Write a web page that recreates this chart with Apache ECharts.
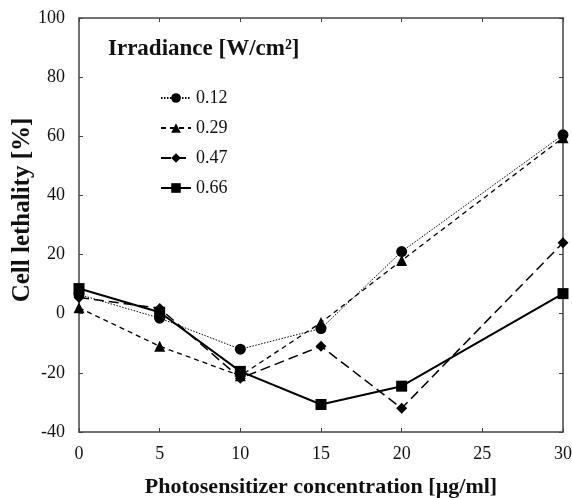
<!DOCTYPE html>
<html>
<head>
<meta charset="utf-8">
<script src="https://cdn.jsdelivr.net/npm/echarts@6/dist/echarts.min.js"></script>
<style>
  html, body { margin: 0; padding: 0; background: #fff; }
  #chart { width: 572px; height: 498px; }
</style>
</head>
<body>
<div id="chart"></div>
<script>
// concentration [ug/ml]
const conc = [0, 5, 10, 15, 20, 30];

// cell lethality [%] per irradiance
const irr012 = [6.5, -1.5, -12, -5, 21, 60.5];
const irr029 = [2, -11, -21, -3, 18, 59.5];
const irr047 = [5.5, 1.8, -21.8, -11, -32, 24];
const irr066 = [8.5, 0.5, -19.5, -30.7, -24.5, 6.8];

const seriesNames = ['0.12', '0.29', '0.47', '0.66'];

const font = 'Liberation Serif, Times New Roman, serif';
const axisColor = '#444';

const chartDom = document.getElementById('chart');
const myChart = echarts.init(chartDom);

function pairs(vals) {
  return conc.map((c, i) => [c, vals[i]]);
}

function mkSeries(name, vals, symbol, size, lineType, width) {
  return {
    name: name,
    type: 'line',
    data: pairs(vals),
    symbol: symbol,
    symbolSize: size,
    lineStyle: { color: '#000', width: width, type: lineType },
    itemStyle: { color: '#000' },
    z: 3
  };
}

const axisCommon = {
  axisLine: { show: true, onZero: false, lineStyle: { color: axisColor, width: 1.5 } },
  axisTick: { show: true, inside: true, length: 4, lineStyle: { color: axisColor, width: 1 } },
  splitLine: { show: false }
};

const option = {
  animation: false,
  title: {
    text: 'Irradiance [W/cm²]',
    left: 103,
    top: 33,
    textStyle: { fontFamily: font, fontSize: 23, fontWeight: 'bold', color: '#111' }
  },
  legend: {
    orient: 'vertical',
    left: 155,
    top: 84,
    itemWidth: 30,
    itemHeight: 12,
    itemGap: 12,
    data: seriesNames,
    textStyle: { fontFamily: font, fontSize: 18, color: '#111' }
  },
  grid: { left: 79, right: 9, top: 18, bottom: 66, outerBoundsMode: 'none' },
  xAxis: [
    Object.assign({
      type: 'value', min: 0, max: 30, interval: 5,
      name: 'Photosensitizer concentration [µg/ml]',
      nameLocation: 'middle', nameGap: 44,
      nameTextStyle: { fontFamily: font, fontSize: 22, fontWeight: 'bold', color: '#111' },
      axisLabel: { fontFamily: font, fontSize: 18, color: '#111', margin: 13 }
    }, axisCommon),
    Object.assign({
      type: 'value', min: 0, max: 30, interval: 5, position: 'top',
      axisLabel: { show: false }
    }, axisCommon)
  ],
  yAxis: [
    Object.assign({
      type: 'value', min: -40, max: 100, interval: 20,
      name: 'Cell lethality [%]',
      nameLocation: 'middle', nameGap: 44, nameMoveOverlap: false,
      nameTextStyle: { fontFamily: font, fontSize: 25, fontWeight: 'bold', color: '#111', padding: [0, 0, 0, 30] },
      axisLabel: { fontFamily: font, fontSize: 18, color: '#111', margin: 14 }
    }, axisCommon),
    Object.assign({
      type: 'value', min: -40, max: 100, interval: 20, position: 'right',
      axisLabel: { show: false }
    }, axisCommon)
  ],
  series: [
    mkSeries('0.12', irr012, 'circle', 11, [1.5, 1.5], 1),
    mkSeries('0.29', irr029, 'triangle', 11, [5, 4], 1.3),
    mkSeries('0.47', irr047, 'diamond', 11, [10, 5], 1.5),
    mkSeries('0.66', irr066, 'rect', 11, 'solid', 2)
  ]
};

myChart.setOption(option);
</script>
</body>
</html>
